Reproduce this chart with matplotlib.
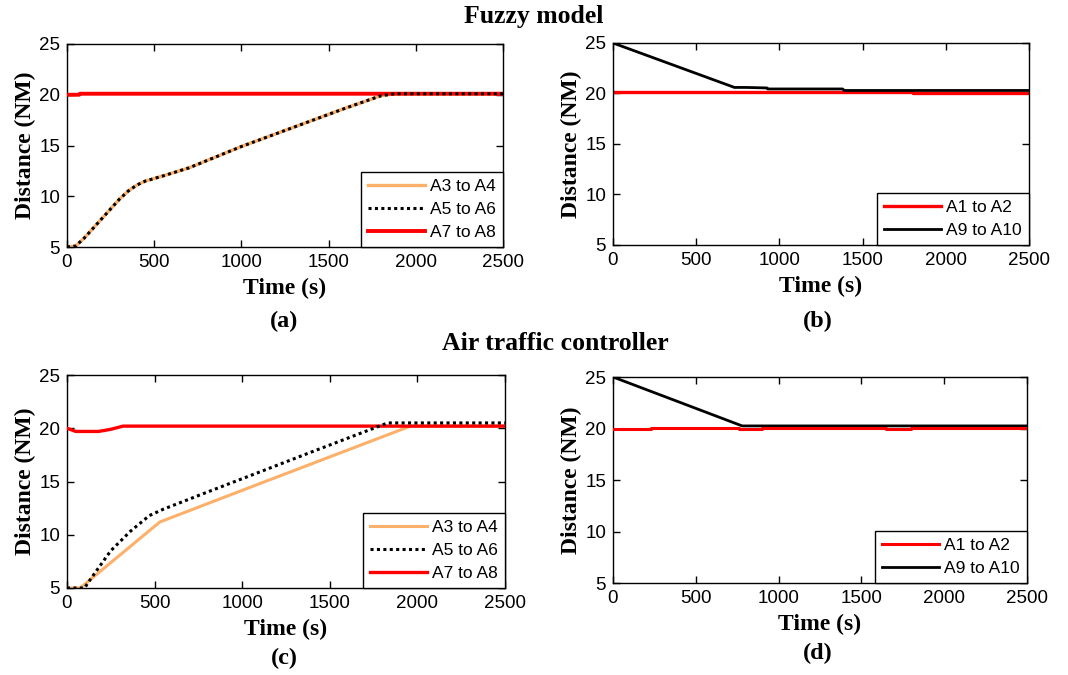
import matplotlib
matplotlib.use("Agg")
import matplotlib.pyplot as plt

# ---- data (time in s, distance in NM) ----
# (a) fuzzy model
t_a34 = [0, 50, 100, 200, 300, 350, 400, 450, 550, 700, 1000, 1300, 1600, 1800, 1880, 2500]
d_a34 = [5.0, 5.1, 5.9, 7.8, 9.7, 10.5, 11.1, 11.5, 12.0, 12.8, 14.9, 16.8, 18.7, 19.9, 20.1, 20.1]
t_a56 = [0, 50, 100, 200, 300, 350, 400, 450, 550, 700, 1000, 1300, 1600, 1800, 1880, 2500]
d_a56 = [5.0, 5.1, 5.9, 7.8, 9.7, 10.5, 11.1, 11.5, 12.0, 12.8, 14.9, 16.8, 18.7, 19.9, 20.1, 20.1]
t_a78 = [0, 70, 75, 2500]
d_a78 = [20.0, 20.0, 20.1, 20.1]

# (b) fuzzy model
t_b12 = [0, 1800, 1800, 2500]
d_b12 = [20.1, 20.1, 20.05, 20.05]
t_b910 = [0, 730, 800, 925, 930, 1380, 1390, 2500]
d_b910 = [25.0, 20.6, 20.6, 20.55, 20.45, 20.45, 20.3, 20.3]

# (c) air traffic controller
t_c34 = [0, 75, 530, 1100, 1960, 2500]
d_c34 = [5.0, 5.0, 11.2, 14.8, 20.2, 20.2]
t_c56 = [0, 100, 150, 250, 360, 470, 550, 800, 1085, 1400, 1830, 2500]
d_c56 = [5.0, 5.0, 6.2, 8.5, 10.3, 11.8, 12.4, 14.0, 15.8, 17.8, 20.5, 20.5]
t_c78 = [0, 50, 180, 250, 320, 2500]
d_c78 = [20.0, 19.7, 19.7, 19.9, 20.2, 20.2]

# (d) air traffic controller
t_d12 = [0, 230, 230, 760, 760, 900, 900, 1650, 1650, 1800, 1800, 2500]
d_d12 = [19.95, 19.95, 20.05, 20.05, 19.95, 19.95, 20.05, 20.05, 19.95, 19.95, 20.05, 20.05]
t_d910 = [0, 780, 2500]
d_d910 = [25.0, 20.25, 20.25]

ORANGE = "#FDB06A"
RED = "#FF0000"
SERIF = "Liberation Serif"
SANS = "Liberation Sans"

plt.rcParams["font.family"] = SANS

fig = plt.figure(figsize=(10.68, 6.75), dpi=100)

W, H = 1068.0, 675.0


def add_axes(left, top, right, bottom):
    return fig.add_axes([left / W, 1 - bottom / H, (right - left) / W, (bottom - top) / H])


ax_a = add_axes(67, 44, 503, 247)
ax_b = add_axes(613, 43, 1029, 245)
ax_c = add_axes(67, 375, 505, 588)
ax_d = add_axes(613, 377, 1027, 583)

dotted = (0, (1, 1.1))

ax_a.plot(t_a34, d_a34, color=ORANGE, lw=2.4, label="A3 to A4", zorder=2)
ax_a.plot(t_a56, d_a56, color="black", lw=2.2, ls=dotted, label="A5 to A6", zorder=4)
ax_a.plot(t_a78, d_a78, color=RED, lw=2.8, label="A7 to A8", zorder=3)

ax_b.plot(t_b12, d_b12, color=RED, lw=2.4, label="A1 to A2", zorder=2)
ax_b.plot(t_b910, d_b910, color="black", lw=2.0, label="A9 to A10", zorder=3)

ax_c.plot(t_c34, d_c34, color=ORANGE, lw=2.2, label="A3 to A4", zorder=2)
ax_c.plot(t_c56, d_c56, color="black", lw=2.2, ls=dotted, label="A5 to A6", zorder=4)
ax_c.plot(t_c78, d_c78, color=RED, lw=2.4, label="A7 to A8", zorder=3)

ax_d.plot(t_d12, d_d12, color=RED, lw=2.2, label="A1 to A2", zorder=3)
ax_d.plot(t_d910, d_d910, color="black", lw=2.0, label="A9 to A10", zorder=2)

for ax in (ax_a, ax_b, ax_c, ax_d):
    ax.set_xlim(0, 2500)
    ax.set_ylim(5, 25)
    ax.set_xticks([0, 500, 1000, 1500, 2000, 2500])
    ax.set_yticks([5, 10, 15, 20, 25])
    ax.tick_params(direction="in", length=5, width=1, top=True, right=True,
                   labelsize=13.5, pad=5)
    for s in ax.spines.values():
        s.set_linewidth(1.0)
    ax.set_xlabel("Time (s)", family=SERIF, fontweight="bold", fontsize=17, labelpad=5)
    ax.set_ylabel("Distance (NM)", family=SERIF, fontweight="bold", fontsize=17, labelpad=2)
    leg = ax.legend(loc="lower right", borderaxespad=0, fancybox=False, framealpha=1,
                    edgecolor="black", fontsize=12.5, handlelength=3.3, labelspacing=0.45,
                    borderpad=0.4, handletextpad=0.3)
    leg.get_frame().set_linewidth(1.0)

fig.text(534 / W, 1 - 16 / H, "Fuzzy model", family=SERIF, fontweight="bold",
         fontsize=18.5, ha="center", va="center")
fig.text(555 / W, 1 - 343 / H, "Air traffic controller", family=SERIF, fontweight="bold",
         fontsize=18.5, ha="center", va="center")

for x, y, lab in [(284, 321, "(a)"), (818, 321, "(b)"), (284, 658, "(c)"), (818, 653, "(d)")]:
    fig.text(x / W, 1 - y / H, lab, family=SERIF, fontweight="bold", fontsize=17.5,
             ha="center", va="center")

fig.savefig("out.png", dpi=100)
